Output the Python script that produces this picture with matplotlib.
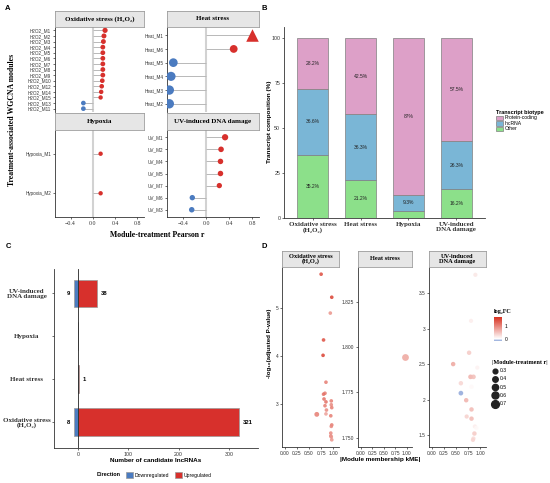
#!/usr/bin/env python3

## plot.py - four panel lncRNA / WGCNA summary figure

import numpy as np
import matplotlib
matplotlib.use("Agg")
import matplotlib.pyplot as plt
from matplotlib.patches import Patch
from matplotlib.lines import Line2D
from matplotlib.colors import LinearSegmentedColormap, Normalize

## Global settings

W, H = 550, 483
SERIF = ['Liberation Serif', 'DejaVu Serif']
SANS = ['Liberation Sans', 'DejaVu Sans']
RED = '#D7302C'
BLUE = '#4B7BC0'
STRIP_FILL = '#E6E6E6'
STRIP_EDGE = '#9C9C9C'

## Data

# panel A: module-treatment correlations
ox_modules = ['H2O2_M1', 'H2O2_M2', 'H2O2_M3', 'H2O2_M4', 'H2O2_M5', 'H2O2_M6', 'H2O2_M7',
              'H2O2_M8', 'H2O2_M9', 'H2O2_M10', 'H2O2_M12', 'H2O2_M14', 'H2O2_M15',
              'H2O2_M13', 'H2O2_M11']
ox_r = [0.22, 0.20, 0.19, 0.18, 0.18, 0.18, 0.18, 0.18, 0.18, 0.17, 0.16, 0.15, 0.14, -0.17, -0.17]

heat_modules = ['Heat_M1', 'Heat_M6', 'Heat_M5', 'Heat_M4', 'Heat_M3', 'Heat_M2']
heat_r = [0.80, 0.48, -0.57, -0.61, -0.64, -0.64]
heat_clipped = ['Heat_M1']

hyp_modules = ['Hypoxia_M1', 'Hypoxia_M2']
hyp_r = [0.14, 0.14]

uv_modules = ['UV_M1', 'UV_M2', 'UV_M4', 'UV_M5', 'UV_M7', 'UV_M6', 'UV_M3']
uv_r = [0.33, 0.26, 0.25, 0.25, 0.23, -0.24, -0.25]

# panel B: transcript composition (%)
treatments = ['Oxidative stress\n(H₂O₂)', 'Heat stress', 'Hypoxia', 'UV-induced\nDNA damage']
other_pct = [35.2, 21.2, 3.7, 16.2]
lnc_pct = [36.6, 36.3, 9.3, 26.3]
prot_pct = [28.2, 42.5, 87.0, 57.5]

# panel C: candidate lncRNA counts
up_counts = [321, 1, 0, 38]
down_counts = [8, 0, 0, 9]

# panel D: hub lncRNAs
ox_kme = [0.75, 0.97, 0.94, 0.80, 0.79, 0.85, 0.83, 0.80, 0.81, 0.85, 0.96, 0.96, 0.97,
          0.83, 0.86, 0.85, 0.66, 0.95, 0.97, 0.96, 0.95, 0.95, 0.96, 0.97]
ox_logp = [5.70, 5.22, 4.89, 4.33, 4.01, 3.45, 3.22, 3.20, 3.10, 3.04, 3.06, 2.98, 2.92,
           2.96, 2.87, 2.79, 2.78, 2.75, 2.56, 2.53, 2.39, 2.33, 2.31, 2.25]
ox_lfc = [1.5, 1.6, 0.9, 1.5, 1.6, 1.1, 1.1, 1.2, 1.2, 1.2, 1.1, 1.0, 1.1,
          1.1, 1.0, 0.8, 1.1, 1.1, 1.1, 1.0, 1.0, 1.0, 0.9, 0.9]
ox_modr = [0.22] * 16 + [0.38] + [0.22] * 7

heat_kme = [0.96]
heat_logp = [1.7945]
heat_lfc = [0.75]
heat_modr = [0.64]

uv_kme = [0.90, 0.81, 0.77, 0.44, 0.94, 0.80, 0.86, 0.60, 0.82, 0.60, 0.71, 0.82, 0.72,
          0.82, 0.89, 0.88, 0.86, 0.85, 0.92]
uv_logp = [3.76, 3.11, 2.66, 2.50, 2.45, 2.32, 2.32, 2.23, 2.18, 2.09, 1.99, 1.86, 1.76,
           1.73, 1.62, 1.52, 1.45, 1.43, 1.60]
uv_lfc = [0.20, 0.15, 0.45, 0.75, 0.10, 0.65, 0.55, 0.35, 0.05, -0.17, 0.65, 0.60, 0.40,
          0.60, 0.15, 0.45, 0.30, 0.35, 0.05]
uv_modr = [0.30, 0.30, 0.33, 0.33, 0.30, 0.36, 0.36, 0.33, 0.33, 0.36, 0.33, 0.33, 0.30,
           0.33, 0.30, 0.33, 0.30, 0.30, 0.30]


## Helpers

def px_axes(fig, x0, y0, x1, y1):
    return fig.add_axes([x0 / W, 1 - y1 / H, (x1 - x0) / W, (y1 - y0) / H])

def px_text(fig, x, y, s, **kw):
    return fig.text(x / W, 1 - y / H, s, **kw)

def strip(fig, x0, y0, x1, y1, label, size=5.0):
    ax = px_axes(fig, x0, y0, x1, y1)
    ax.set_facecolor(STRIP_FILL)
    ax.set_xticks([])
    ax.set_yticks([])
    for sp in ax.spines.values():
        sp.set_color(STRIP_EDGE)
        sp.set_linewidth(0.6)
    ax.text(0.5, 0.5, label, ha='center', va='center', fontsize=size,
            fontweight='bold', family=SERIF, transform=ax.transAxes, linespacing=1.0)
    return ax

def style_axes(ax, bottom=True):
    for side in ['top', 'right']:
        ax.spines[side].set_visible(False)
    ax.spines['left'].set_linewidth(0.6)
    ax.spines['left'].set_color('#333333')
    if bottom:
        ax.spines['bottom'].set_linewidth(0.6)
        ax.spines['bottom'].set_color('#333333')
    else:
        ax.spines['bottom'].set_visible(False)
    ax.tick_params(length=1.5, width=0.5, pad=1.2, colors='#333333')

def lollipop(ax, modules, r, clipped, show_x):
    y = np.arange(len(modules))
    r = np.array(r)
    ax.axvline(0, color='#D2D2D2', lw=1.5, zorder=0)
    ax.hlines(y, 0, r, color='#B8B8B8', lw=0.7, zorder=1)
    colors = np.where(r > 0, RED, BLUE)
    sizes = ((3 + 10 * np.abs(r)) / 1.389) ** 2
    tri = np.array([m in clipped for m in modules])
    ax.scatter(r[~tri], y[~tri], s=sizes[~tri], c=colors[~tri], zorder=3, linewidths=0)
    ax.scatter(r[tri], y[tri], s=sizes[tri] * 1.3, c=colors[tri], marker='^', zorder=3, linewidths=0)
    ax.set_ylim(len(modules) - 0.4, -0.6)
    ax.set_xlim(-0.68, 0.92)
    ax.set_yticks(y, modules)
    ax.set_xticks([-0.4, 0.0, 0.4, 0.8])
    style_axes(ax, bottom=show_x)
    for lab in ax.get_yticklabels():
        lab.set_fontsize(3.3)
        lab.set_family(SANS)
    if show_x:
        ax.set_xticklabels(['−0.4', '0.0', '0.4', '0.8'], fontsize=4.2, family=SERIF)
    else:
        ax.tick_params(axis='x', bottom=False, labelbottom=False)


## Main

def main():
    fig = plt.figure(figsize=(W / 100, H / 100), dpi=100)

    # ---- panel A
    ax = px_axes(fig, 55, 27, 144, 112)
    lollipop(ax, ox_modules, ox_r, [], False)
    strip(fig, 55, 11, 144, 27, 'Oxidative stress (H₂O₂)')
    ax = px_axes(fig, 167, 27, 259, 112)
    lollipop(ax, heat_modules, heat_r, heat_clipped, False)
    strip(fig, 167, 11, 259, 27, 'Heat stress')
    ax = px_axes(fig, 55, 130, 144, 217)
    lollipop(ax, hyp_modules, hyp_r, [], True)
    strip(fig, 55, 113, 144, 130, 'Hypoxia')
    ax = px_axes(fig, 167, 130, 259, 217)
    lollipop(ax, uv_modules, uv_r, [], True)
    strip(fig, 167, 113, 259, 130, 'UV-induced DNA damage')
    px_text(fig, 12, 120, 'Treatment-associated WGCNA modules', rotation=90, ha='center',
            va='center', fontsize=5.6, fontweight='bold', family=SERIF)
    px_text(fig, 157, 235, 'Module-treatment Pearson r', ha='center', va='center',
            fontsize=5.6, fontweight='bold', family=SERIF)

    # ---- panel B
    ax = px_axes(fig, 284, 27, 485, 218)
    x = np.arange(len(treatments))
    other = np.array(other_pct)
    lnc = np.array(lnc_pct)
    prot = np.array(prot_pct)
    layers = [(other, 0, '#8CE08A', 'Other'),
              (lnc, other, '#7AB6D6', 'lncRNA'),
              (prot, other + lnc, '#DDA0C8', 'Protein-coding')]
    for vals, base, col, name in layers:
        ax.bar(x, vals, bottom=base, width=0.65, color=col, edgecolor='#7F7F7F', linewidth=0.5)
        for xi, v, b in zip(x, vals, np.broadcast_to(base, vals.shape)):
            if v >= 5:
                ax.text(xi, b + v / 2, f'{v:g}%', ha='center', va='center', fontsize=3.6,
                        family=SANS, color='#222222')
    ax.set_xlim(-0.6, 3.6)
    ax.set_ylim(0, 106)
    ax.set_yticks([0, 25, 50, 75, 100])
    ax.set_xticks(x, treatments)
    style_axes(ax)
    for lab in ax.get_yticklabels():
        lab.set_fontsize(3.8)
        lab.set_family(SANS)
    for lab in ax.get_xticklabels():
        lab.set_fontsize(5.0)
        lab.set_family(SERIF)
        lab.set_fontweight('bold')
        lab.set_linespacing(1.0)
    px_text(fig, 269, 122, 'Transcript composition (%)', rotation=90, ha='center', va='center',
            fontsize=4.6, fontweight='bold', family=SANS)
    handles = [Patch(facecolor='#DDA0C8', edgecolor='#7F7F7F', lw=0.5, label='Protein-coding'),
               Patch(facecolor='#7AB6D6', edgecolor='#7F7F7F', lw=0.5, label='lncRNA'),
               Patch(facecolor='#8CE08A', edgecolor='#7F7F7F', lw=0.5, label='Other')]
    leg = fig.legend(handles=handles, title='Transcript biotype', loc='upper left',
                     bbox_to_anchor=(494 / W, 1 - 108 / H), frameon=False,
                     prop={'family': SANS, 'size': 3.6}, handlelength=1.4, handleheight=1.0,
                     handletextpad=0.4, labelspacing=0.1, borderaxespad=0, alignment='left')
    leg.get_title().set_fontsize(4.0)
    leg.get_title().set_fontweight('bold')
    leg.get_title().set_family(SANS)

    # ---- panel C
    ax = px_axes(fig, 54, 269, 258, 448)
    y = np.arange(len(treatments))
    up = np.array(up_counts)
    down = np.array(down_counts)
    ax.barh(y, up, height=0.65, color=RED, edgecolor='#9A9A9A', linewidth=0.5, zorder=2)
    ax.barh(y, down, left=-down, height=0.65, color=BLUE, edgecolor='#9A9A9A', linewidth=0.5, zorder=2)
    ax.axvline(0, color='#222222', lw=0.6, zorder=3)
    for yi, u, d in zip(y, up, down):
        if u > 0:
            ax.text(u + 7, yi, str(u), ha='left', va='center', fontsize=4.2,
                    fontweight='bold', family=SANS)
        if d > 0:
            ax.text(-d - 7, yi, str(d), ha='right', va='center', fontsize=4.2,
                    fontweight='bold', family=SANS)
    ax.set_xlim(-48, 358)
    ax.set_ylim(-0.6, 3.57)
    ax.set_xticks([0, 100, 200, 300])
    ax.set_yticks(y, treatments)
    style_axes(ax)
    for lab in ax.get_xticklabels():
        lab.set_fontsize(3.8)
        lab.set_family(SANS)
    for lab in ax.get_yticklabels():
        lab.set_fontsize(5.0)
        lab.set_family(SERIF)
        lab.set_fontweight('bold')
        lab.set_linespacing(1.0)
        lab.set_horizontalalignment('center')
    ax.tick_params(axis='y', pad=18)
    px_text(fig, 156, 460, 'Number of candidate lncRNAs', ha='center', va='center',
            fontsize=4.6, fontweight='bold', family=SANS)
    px_text(fig, 121, 475, 'Direction', ha='right', va='center', fontsize=4.0,
            fontweight='bold', family=SANS)
    handles = [Patch(facecolor=BLUE, edgecolor='#9A9A9A', lw=0.5, label='Downregulated'),
               Patch(facecolor=RED, edgecolor='#9A9A9A', lw=0.5, label='Upregulated')]
    fig.legend(handles=handles, loc='center left', bbox_to_anchor=(124 / W, 1 - 475 / H),
               ncol=2, frameon=False, prop={'family': SANS, 'size': 3.6}, handlelength=1.4,
               handleheight=1.2, handletextpad=0.4, columnspacing=1.0, borderaxespad=0)

    # ---- panel D
    cmap = LinearSegmentedColormap.from_list(
        'lfc', [(0.0, '#8AA3D8'), (0.09, '#FFFFFF'), (1.0, '#D7301F')])
    norm = Normalize(vmin=-0.18, vmax=1.75)
    facets = [(282, 339, 'Oxidative stress\n(H₂O₂)', ox_kme, ox_logp, ox_lfc, ox_modr,
               [3, 4, 5], (2.1, 5.85)),
              (358, 412, 'Heat stress', heat_kme, heat_logp, heat_lfc, heat_modr,
               [1.750, 1.775, 1.800, 1.825], (1.745, 1.844)),
              (429, 486, 'UV-induced\nDNA damage', uv_kme, uv_logp, uv_lfc, uv_modr,
               [1.5, 2.0, 2.5, 3.0, 3.5], (1.33, 3.87))]
    sc = None
    for x0, x1, name, kme, logp, lfc, modr, yt, yl in facets:
        ax = px_axes(fig, x0, 267, x1, 447)
        sizes = ((2 + 7.5 * np.array(modr)) / 1.389) ** 2
        sc = ax.scatter(kme, logp, s=sizes, c=lfc, cmap=cmap, norm=norm, alpha=0.85,
                        linewidths=0, zorder=3)
        ax.set_xlim(-0.06, 1.12)
        ax.set_ylim(*yl)
        ax.set_xticks([0, 0.25, 0.5, 0.75, 1.0], ['0.00', '0.25', '0.50', '0.75', '1.00'])
        ax.set_yticks(yt, [f'{v:g}' if len(yt) != 4 else f'{v:.3f}' for v in yt])
        style_axes(ax)
        for lab in ax.get_xticklabels() + ax.get_yticklabels():
            lab.set_fontsize(3.5)
            lab.set_family(SANS)
        strip(fig, x0, 251, x1, 267, name, size=4.6)
    px_text(fig, 380, 460, '|Module membership kME|', ha='center', va='center',
            fontsize=4.6, fontweight='bold', family=SANS)
    px_text(fig, 269, 343, '-log₁₀(adjusted P-value)', rotation=90, ha='center', va='center',
            fontsize=4.4, fontweight='bold', family=SANS)

    cax = px_axes(fig, 494, 317, 502, 341)
    cb = fig.colorbar(sc, cax=cax, ticks=[0, 1])
    cb.solids.set_alpha(1)
    cb.outline.set_visible(False)
    cax.tick_params(labelsize=3.6, length=0, pad=2)
    for lab in cax.get_yticklabels():
        lab.set_family(SANS)
    px_text(fig, 494, 312, 'log₂FC', ha='left', va='center', fontsize=4.4,
            fontweight='bold', family=SERIF)

    size_vals = [0.3, 0.4, 0.5, 0.6, 0.7]
    handles = [Line2D([], [], ls='none', marker='o', color='#222222',
                      markersize=(2.5 + 7.5 * v) / 1.389, label=f'{v:g}') for v in size_vals]
    leg = fig.legend(handles=handles, title='|Module-treatment r|', loc='upper left',
                     bbox_to_anchor=(490 / W, 1 - 358 / H), frameon=False,
                     prop={'family': SANS, 'size': 3.6}, handlelength=1.2,
                     handletextpad=0.3, labelspacing=0.65, borderaxespad=0, alignment='left')
    leg.get_title().set_fontsize(4.4)
    leg.get_title().set_fontweight('bold')
    leg.get_title().set_family(SERIF)

    # panel letters
    for lx, ly, letter in [(8, 8, 'A'), (264, 8, 'B'), (8, 247, 'C'), (264, 247, 'D')]:
        px_text(fig, lx, ly, letter, ha='center', va='center', fontsize=5.5,
                fontweight='bold', family=SANS)

    fig.savefig('out.png', dpi=100)


if __name__ == '__main__':
    main()
